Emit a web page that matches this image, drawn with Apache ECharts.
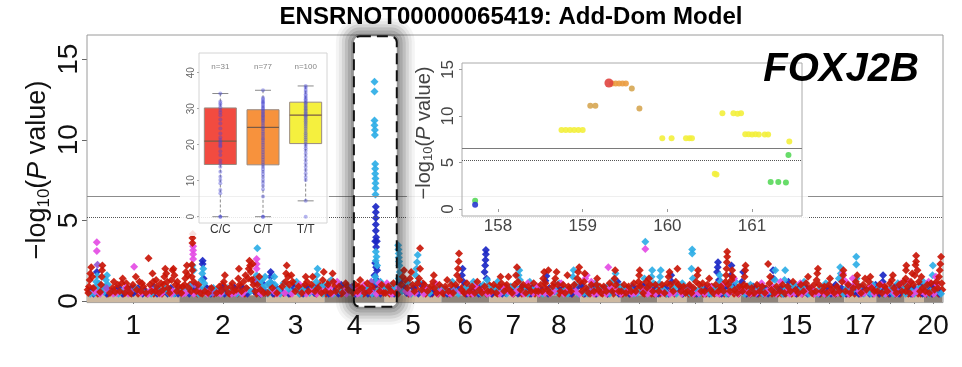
<!DOCTYPE html>
<html><head><meta charset="utf-8">
<script src="https://cdn.jsdelivr.net/npm/echarts@6/dist/echarts.min.js"></script>
<style>html,body{margin:0;padding:0;background:#fff}#c{width:962px;height:367px}</style>
</head><body><div id="c"></div>
<script>
// ---------- main Manhattan plot data ----------
const chrNames = ['1','2','3','4','5','6','7','8','9','10','11','12','13','14','15','16','17','18','19','20'];
const chrLengths = [282,266,177,184,173,147,145,133,122,112,90,52,114,115,111,90,97,87,59,56]; // Mb
const chrLabelShown = ['1','2','3','4','5','6','7','8','10','13','15','17','20'];
const yTicksMain = [0,5,10,15];
const sigLine = 6.5, suggestiveLine = 5.2;
const locusBox = [815, 946]; // Mb, boxed peak on chr 4

// points: [cumulative position (Mb), -log10(P)]
const redPts = [[4,0.5],[6,0.9],[8,1.3],[10,1.7],[13,2.1],[16,1.5],[19,0.8],[40,0.55],[43,1.0],[45,1.5],[46,1.9],[47,2.2],[70,0.5],[78,0.8],[86,0.55],[94,1.0],[100,0.6],[106,1.1],[109,1.4],[116,0.5],[124,0.8],[132,0.5],[140,1.0],[149,1.5],[152,0.7],[160,1.2],[164,0.6],[172,0.9],[180,0.5],[188,2.65],[192,1.0],[197,0.6],[200,1.7],[202,1.2],[208,0.6],[214,0.9],[220,0.5],[226,1.1],[232,0.7],[236,1.5],[239,2.0],[242,1.7],[245,1.2],[248,0.8],[252,0.5],[258,1.3],[261,1.9],[264,2.0],[267,1.6],[270,1.0],[274,0.6],[280,0.9],
[288,0.5],[292,0.9],[298,1.0],[300,1.4],[302,1.8],[305,2.2],[308,1.6],[311,0.8],[318,0.6],[320,1.5],[322,1.9],[320,2.25],[322,3.6],[322,3.9],[323,4.15],[326,1.2],[334,0.6],[340,1.0],[346,0.5],[360,0.6],[370,0.5],[380,0.8],[396,0.5],[404,0.9],[410,0.6],[418,1.2],[421,1.6],[424,0.8],[432,0.5],[440,0.9],[448,0.6],[456,0.7],[462,1.4],[464,2.0],[466,1.0],[472,0.6],[478,1.2],[484,1.6],[486,0.8],[492,1.4],[494,2.0],[496,2.5],[498,2.2],[500,1.8],[503,1.3],[506,2.3],[508,1.0],[514,0.6],[520,1.0],[526,1.5],[530,0.7],[540,0.5],
[552,0.5],[566,0.8],[580,0.5],[596,0.9],[606,1.2],[608,1.7],[610,2.2],[614,1.5],[618,1.0],[624,1.6],[628,1.2],[636,0.6],[646,0.9],[656,0.5],[666,1.0],[668,1.5],[676,0.6],[686,1.0],[689,1.5],[696,0.6],[706,0.8],[716,0.5],[720,1.3],[723,1.8],
[728,0.6],[736,1.0],[744,0.5],[750,1.7],[752,1.2],[760,0.6],[770,0.9],[780,0.5],[790,1.1],[798,0.7],[812,0.5],[820,1.0],[826,0.6],[834,1.3],[840,0.8],[848,0.5],[856,1.1],[862,0.6],[870,0.9],[894,0.6],[900,1.0],[906,0.5],
[912,0.5],[920,0.9],[928,0.6],[936,1.1],[944,0.5],[960,1.0],[964,1.5],[968,1.9],[972,1.3],[978,0.8],[986,1.4],[990,1.8],[994,1.0],[1000,0.6],[1010,1.1],[1017,3.27],[1017,2.0],[1014,1.4],[1022,0.7],[1030,1.0],[1040,0.6],[1050,0.9],[1057,1.2],[1059,1.6],[1061,0.8],[1068,0.5],[1076,1.0],
[1086,0.5],[1094,0.9],[1100,1.3],[1104,0.6],[1112,1.0],[1118,0.5],[1126,1.0],[1130,1.6],[1133,2.0],[1135,2.45],[1136,2.95],[1138,1.3],[1144,0.7],[1152,0.5],[1160,1.1],[1168,0.6],[1176,0.9],[1184,0.5],[1192,1.2],[1198,0.7],[1206,0.5],[1214,0.9],[1224,0.6],
[1234,0.6],[1242,1.0],[1250,0.5],[1258,0.9],[1263,1.5],[1266,1.1],[1274,0.6],[1282,1.0],[1287,1.5],[1290,0.7],[1298,0.5],[1306,1.0],[1310,1.6],[1313,2.1],[1316,1.2],[1324,0.7],[1332,1.0],[1340,0.5],[1348,0.9],[1356,0.6],[1364,1.1],[1370,0.6],
[1378,0.6],[1386,1.0],[1390,0.6],[1393,1.4],[1396,1.8],[1400,1.1],[1406,0.7],[1409,1.9],[1414,0.5],[1422,0.9],[1430,1.4],[1434,1.8],[1438,1.0],[1446,0.6],[1454,1.0],[1460,0.5],[1467,1.6],[1470,0.9],[1478,0.6],[1488,1.0],[1497,1.4],[1500,1.8],[1503,2.1],[1506,1.2],
[1512,0.6],[1518,1.2],[1520,1.7],[1524,0.8],[1532,0.5],[1540,1.0],[1548,0.6],[1556,1.0],[1558,1.4],[1562,0.7],[1570,0.5],[1578,0.9],[1586,0.6],[1596,1.1],[1604,0.6],[1611,1.4],[1613,1.9],[1616,1.0],[1624,0.6],
[1632,0.6],[1640,1.0],[1646,0.5],[1654,0.9],[1662,0.6],[1670,1.1],[1676,0.6],[1684,1.2],[1686,1.6],[1688,1.9],[1690,0.9],[1698,0.5],[1708,1.2],[1710,0.8],[1716,1.4],[1720,1.0],[1728,0.6],[1736,1.0],
[1746,0.6],[1756,1.0],[1764,0.5],[1772,1.1],[1776,1.5],[1779,1.8],[1782,1.0],[1790,0.6],[1798,1.2],[1803,2.0],[1806,1.0],[1814,0.6],[1822,0.9],[1828,0.5],
[1834,0.6],[1840,1.0],[1846,0.5],[1852,0.8],[1860,1.2],[1864,1.6],[1866,1.9],[1870,1.0],[1876,0.6],[1880,1.1],
[1886,0.6],[1894,1.0],[1900,1.4],[1904,0.7],[1912,0.5],[1920,1.0],[1928,0.6],[1936,0.9],[1944,0.6],[1950,1.2],[1952,1.6],[1953,2.0],[1954,2.4],[1955,2.75],[1955,3.05],[1958,1.0],[1964,0.6],[1968,1.3],[1970,1.9],[1972,1.5],[1978,0.7],[1986,0.5],[1992,0.9],
[2002,0.6],[2006,1.0],[2008,1.5],[2010,1.9],[2011,2.2],[2014,0.9],[2022,0.5],[2030,0.8],[2038,0.5],[2046,1.0],[2054,0.6],[2062,0.9],[2070,0.5],[2080,2.3],[2084,1.1],[2086,1.5],[2090,0.7],[2100,0.5],[2106,0.9],
[2116,0.6],[2124,1.0],[2130,0.5],[2140,0.9],[2148,0.6],[2156,1.2],[2164,0.7],[2172,0.5],[2180,1.0],[2188,0.6],[2196,1.1],[2202,1.5],[2206,0.8],[2214,0.5],[2220,1.0],
[2226,0.6],[2228,1.3],[2230,1.7],[2232,2.0],[2236,1.0],[2244,0.6],[2252,0.9],[2260,0.5],[2266,1.0],[2269,1.4],[2274,0.7],[2282,0.5],[2290,0.9],[2298,0.6],[2306,1.2],[2309,1.6],[2310,1.9],
[2316,0.6],[2324,1.0],[2332,0.5],[2340,0.8],[2348,1.2],[2352,1.6],[2356,0.9],[2364,0.5],[2370,1.0],[2376,1.4],[2380,0.7],[2388,1.2],[2392,1.5],[2396,0.8],[2404,0.6],
[2414,0.6],[2420,1.0],[2428,0.5],[2436,0.9],[2444,0.6],[2452,1.1],[2458,1.3],[2461,1.6],[2464,0.8],[2472,0.5],[2480,1.0],[2488,0.6],[2494,1.2],
[2500,0.6],[2500,1.4],[2501,1.9],[2502,2.2],[2506,0.9],[2512,0.5],[2516,1.2],[2520,1.7],[2524,1.0],[2528,1.6],[2530,2.23],[2532,2.45],[2532,2.8],[2536,1.9],[2540,1.2],[2544,0.6],[2548,1.5],[2552,0.8],
[2560,0.6],[2566,1.0],[2572,0.5],[2578,1.1],[2588,0.7],[2594,1.2],[2598,0.8],[2602,1.5],[2604,1.9],[2606,2.3],[2608,2.75],[2610,1.1]];
// dense low-level cloud (red)
const redFloor = [[2,0.7],[24,0.75],[33,0.45],[55,0.8],[64,0.45],[82,1.2],[90,0.8],[112,0.45],[120,1.1],[128,0.75],[136,0.45],[144,0.8],[156,0.45],[168,1.1],[176,0.7],[184,0.45],[204,0.45],[211,1.3],[217,0.75],[229,0.45],[234,1.0],[255,0.7],[276,1.2],[284,0.75],[295,0.6],[314,1.0],[330,0.8],[337,0.45],[352,0.45],[364,0.8],[375,0.75],[388,0.45],[400,0.6],[414,1.0],[428,0.7],[436,0.45],[444,1.1],[452,0.8],[460,0.45],[470,0.9],[482,0.45],[490,0.75],[511,1.4],[518,0.45],[536,0.8],[546,0.5],[558,1.0],[572,0.45],[588,0.75],[600,0.5],[620,0.45],[632,1.1],[640,0.75],[650,0.45],[660,0.9],[672,1.2],[680,0.8],[700,0.45],[710,1.0],[730,0.45],[740,1.2],[756,0.9],[766,0.5],[776,0.45],[784,0.8],[794,0.95],[806,0.7],[830,0.9],[844,0.45],[852,0.8],[866,0.45],[874,0.7],[890,0.9],[916,0.75],[924,0.45],[932,0.75],[950,0.45],[956,0.8],[976,1.1],[982,0.45],[1004,0.8],[1026,1.1],[1034,0.45],[1044,0.8],[1054,0.45],[1064,0.7],[1072,0.45],[1080,0.8],[1090,0.45],[1096,0.7],[1108,0.45],[1122,0.8],[1148,0.9],[1156,0.45],[1164,0.8],[1172,0.45],[1180,0.7],[1188,0.8],[1202,0.45],[1210,0.6],[1220,0.45],[1228,1.0],[1238,0.45],[1246,0.8],[1254,0.45],[1270,0.8],[1278,0.9],[1294,0.75],[1302,0.45],[1320,0.5],[1328,0.45],[1336,0.8],[1344,0.7],[1352,0.45],[1360,0.8],[1368,0.45],[1382,0.45],[1398,0.8],[1418,0.6],[1426,1.1],[1442,0.45],[1450,0.8],[1458,0.7],[1474,0.8],[1482,0.45],[1492,0.6],[1508,0.9],[1516,0.45],[1528,0.6],[1536,0.45],[1544,0.8],[1552,0.45],[1566,0.9],[1574,0.45],[1582,0.75],[1590,0.45],[1600,0.9],[1608,0.45],[1620,0.8],[1628,0.45],[1636,0.45],[1650,0.8],[1658,0.45],[1666,0.5],[1680,0.8],[1694,1.0],[1702,0.45],[1714,0.8],[1724,0.45],[1732,0.45],[1740,0.8],[1750,0.45],[1760,0.8],[1768,0.45],[1786,0.75],[1794,0.45],[1810,0.9],[1818,0.45],[1826,0.8],[1838,0.45],[1850,0.7],[1856,0.45],[1872,0.5],[1882,0.45],[1890,0.45],[1898,0.8],[1908,0.9],[1916,0.45],[1924,0.7],[1932,0.45],[1940,0.8],[1946,0.45],[1962,0.8],[1976,0.45],[1982,0.9],[1990,0.45],[1998,0.8],[2018,0.9],[2026,0.45],[2034,0.5],[2042,0.8],[2050,0.45],[2058,0.5],[2066,0.45],[2074,0.8],[2092,0.45],[2096,0.8],[2110,0.45],[2120,0.45],[2134,0.45],[2144,0.8],[2152,0.45],[2160,0.8],[2168,0.45],[2176,0.8],[2184,0.45],[2192,0.8],[2210,0.75],[2218,0.45],[2240,0.45],[2248,0.8],[2256,0.45],[2264,0.6],[2278,0.8],[2286,0.45],[2294,0.75],[2302,0.45],[2320,0.45],[2328,0.45],[2336,0.8],[2344,0.45],[2360,0.45],[2368,0.5],[2384,0.8],[2400,0.45],[2408,0.7],[2418,0.45],[2424,0.8],[2432,0.45],[2440,0.8],[2448,0.45],[2456,0.75],[2468,0.45],[2476,0.8],[2484,0.45],[2492,0.8],[2508,0.45],[2514,0.8],[2520,0.45],[2538,0.45],[2546,0.45],[2556,0.8],[2564,0.45],[2574,0.8],[2582,0.45],[2590,0.9],[2600,0.45],[2612,0.7]];

const skyPts = [[22,0.5],[25,0.85],[28,1.2],[31,1.55],[34,0.7],[36,1.1],[52,0.55],[55,0.9],[58,1.3],[61,1.6],[64,1.0],[67,0.6],[84,0.5],[112,0.7],[128,0.55],[168,0.6],[184,0.5],[210,0.8],[224,0.6],[250,0.5],[276,0.7],
[322,2.2],[326,1.9],[316,0.9],[348,0.8],[350,1.3],[352,1.7],[355,2.0],[358,1.1],[362,0.6],[376,0.5],[386,0.8],[412,0.5],[436,0.6],[470,0.5],[488,0.7],[520,3.27],[518,1.6],[522,1.2],[530,1.0],[534,1.3],[538,0.8],[544,1.5],
[550,1.0],[556,0.6],[560,1.2],[572,1.5],[574,1.0],[586,0.7],[600,1.1],[620,0.6],[640,1.2],[642,0.8],[660,0.7],[680,0.5],[700,1.2],[704,2.0],[702,1.6],[712,0.8],
[724,1.0],[746,1.3],[772,0.6],[794,0.5],[824,0.6],[860,0.8],[888,0.6],[896,1.2],
[878,13.6],[878,13.0],[878,11.2],[878,10.9],[879,10.6],[879,10.3],[880,8.5],[880,8.2],[880,7.9],[881,7.6],[881,7.3],[881,7.0],[881,6.6],[882,3.05],[884,2.75],[882,2.5],[886,2.2],[880,1.5],[884,1.2],
[950,3.45],[951,3.2],[952,2.95],[952,2.7],[953,2.45],[954,2.2],[955,1.8],[952,1.4],
[918,0.6],[930,1.0],[940,0.7],[962,0.6],[980,1.1],[1004,1.6],[1006,2.0],[1008,2.4],[1010,2.85],[1012,1.2],[1026,0.6],[1046,0.5],[1066,0.8],
[1098,0.6],[1116,1.2],[1122,0.7],[1156,0.8],[1180,1.2],[1196,0.6],[1210,1.0],[1222,1.3],[1226,0.8],
[1238,0.8],[1254,1.2],[1270,0.6],[1294,0.9],[1318,1.6],[1320,1.9],[1322,1.3],[1336,0.6],[1352,1.2],[1368,0.8],
[1384,0.5],[1418,0.7],[1442,1.1],[1458,0.7],[1484,1.5],[1486,1.9],[1490,1.0],
[1516,0.5],[1536,0.8],[1552,1.1],[1574,0.6],[1590,0.9],[1608,1.3],[1614,1.7],[1626,0.9],
[1636,0.8],[1660,0.7],[1680,0.5],[1705,3.67],[1702,1.4],[1724,1.5],[1726,1.9],[1730,1.1],[1740,0.6],
[1748,1.1],[1750,1.5],[1752,1.9],[1760,0.7],[1794,0.8],[1818,1.1],[1826,0.7],
[1848,3.2],[1848,2.95],[1846,2.0],[1850,1.4],[1856,0.7],[1874,0.8],
[1898,0.5],[1916,0.8],[1932,1.6],[1934,1.2],[1940,0.6],[1962,1.1],[1980,1.2],[1984,0.8],
[2016,0.7],[2026,1.0],[2042,0.6],[2058,0.8],[2074,0.6],[2099,0.8],[2101,1.3],[2102,1.9],
[2130,1.3],[2132,1.9],[2134,0.8],[2146,0.6],[2162,1.0],[2176,0.7],[2190,1.2],[2210,0.7],
[2240,0.8],[2256,1.1],[2278,0.6],[2296,1.4],[2300,2.1],[2302,1.7],
[2349,2.75],[2349,2.27],[2350,1.4],[2320,0.8],[2336,0.6],[2360,0.9],[2384,0.6],[2400,1.0],
[2418,0.8],[2440,0.6],[2456,0.8],[2476,1.1],[2492,0.7],
[2504,1.0],[2518,0.6],[2538,0.7],[2554,1.2],
[2562,0.9],[2576,0.6],[2582,1.6],[2583,2.2],[2590,0.6]];
const skyFloor = [[10,0.45],[46,0.7],[96,0.45],[150,0.75],[196,0.45],[240,0.75],[266,0.45],[300,0.7],[340,0.45],[394,0.7],[430,0.8],[458,0.45],[500,0.6],[552,0.45],[590,0.45],[612,0.8],[648,0.45],[690,0.8],[720,0.45],[752,0.45],[800,0.6],[838,0.45],[870,0.45],[906,0.8],[944,0.8],[990,0.45],[1040,0.8],[1084,0.8],[1134,0.45],[1168,0.9],[1204,0.45],[1250,0.7],[1282,0.45],[1310,0.8],[1346,0.45],[1392,0.45],[1432,0.6],[1468,0.45],[1500,0.45],[1530,0.45],[1560,0.8],[1596,0.45],[1632,0.9],[1670,0.45],[1690,0.6],[1716,0.9],[1770,0.45],[1800,0.45],[1840,0.5],[1870,0.45],[1906,0.45],[1952,0.45],[1970,0.8],[2008,0.45],[2030,0.6],[2064,0.45],[2086,0.6],[2124,0.45],[2150,0.9],[2186,0.8],[2204,0.45],[2232,0.45],[2262,0.45],[2290,0.6],[2310,0.45],[2340,0.9],[2372,0.45],[2394,0.45],[2434,0.45],[2462,0.45],[2500,0.45],[2526,0.45],[2542,0.8],[2570,0.45],[2596,0.8],[2608,0.45]];

const bluePts = [[14,0.6],[30,1.8],[76,0.6],[98,0.8],[120,0.6],[142,0.5],[156,0.8],[176,0.6],[204,0.9],[218,0.7],[230,0.6],[256,0.8],[270,0.5],
[330,0.7],[353,2.5],[353,2.3],[356,1.4],[366,0.8],[390,0.6],[414,0.8],[428,0.6],[444,0.5],[476,0.8],[510,0.6],[536,1.1],[542,0.6],
[561,1.8],[561,1.5],[563,1.1],[578,0.8],[592,0.6],[632,0.8],[652,0.6],[672,0.8],[694,0.5],[710,0.6],
[732,0.9],[756,0.6],[776,1.0],[804,0.8],[852,0.7],[874,0.5],[904,0.8],
[882,5.85],[882,5.5],[882,5.15],[882,4.75],[882,4.35],[883,3.95],[880,3.7],[885,3.7],[883,3.35],[880,2.35],[883,2.1],[886,1.9],[878,1.6],[884,1.3],[880,1.0],
[924,0.8],[946,0.6],[956,1.2],[976,0.5],[996,0.8],[1020,1.0],[1036,0.7],[1054,0.5],[1072,0.6],
[1090,0.7],[1108,0.6],[1145,1.6],[1147,2.0],[1150,1.2],[1170,0.8],[1188,0.6],[1202,0.9],[1214,1.8],[1216,2.2],[1217,2.55],[1218,2.9],[1218,3.16],[1220,1.4],
[1246,0.6],[1262,0.8],[1278,0.5],[1302,0.7],[1328,0.9],[1344,0.6],[1360,0.8],
[1382,0.8],[1400,1.25],[1403,1.55],[1412,0.8],[1428,0.6],[1450,0.8],[1474,0.5],[1494,0.8],
[1510,1.0],[1528,0.7],[1544,0.9],[1566,0.6],[1582,0.8],[1600,0.6],[1620,1.2],
[1644,0.7],[1666,0.9],[1694,0.6],[1714,0.6],[1732,0.8],
[1768,0.8],[1784,1.6],[1786,1.2],[1810,0.6],
[1838,0.8],[1858,0.6],[1878,0.7],
[1890,0.8],[1908,0.6],[1924,1.8],[1926,2.1],[1927,2.4],[1930,1.3],[1946,0.8],[1966,1.6],[1968,2.2],[1974,1.0],[1990,0.6],
[2000,1.2],[2004,1.8],[2018,0.6],[2034,0.9],[2050,0.6],[2066,0.8],[2095,1.9],[2096,1.4],[2110,0.7],
[2120,0.8],[2142,1.2],[2152,0.7],[2168,0.9],[2184,0.6],[2198,0.8],[2218,0.6],
[2248,0.6],[2264,0.8],[2286,1.0],[2304,0.8],
[2328,0.8],[2344,0.6],[2368,0.8],[2398,0.5],[2408,1.0],
[2424,0.7],[2430,1.2],[2431,1.6],[2448,0.6],[2468,0.9],[2484,0.7],
[2508,0.7],[2526,0.8],[2546,1.0],
[2568,0.8],[2586,1.0],[2600,0.6]];
const blueFloor = [[20,0.45],[60,0.45],[108,0.45],[136,0.8],[170,0.45],[214,0.45],[246,0.45],[278,0.45],[312,0.45],[344,0.75],[378,0.45],[420,0.45],[450,0.8],[490,0.45],[530,0.45],[568,0.45],[616,0.45],[660,0.45],[700,0.8],[738,0.45],[768,0.45],[820,0.45],[858,0.45],[896,0.45],[938,0.45],[970,0.8],[1012,0.45],[1048,0.45],[1100,0.45],[1130,0.8],[1160,0.45],[1196,0.45],[1236,0.45],[1268,0.45],[1316,0.45],[1356,0.45],[1408,0.45],[1444,0.8],[1480,0.45],[1520,0.45],[1556,0.45],[1590,0.45],[1624,0.45],[1656,0.45],[1700,0.9],[1744,0.45],[1776,0.45],[1820,0.45],[1862,0.45],[1900,0.45],[1938,0.45],[1958,0.45],[2014,0.45],[2046,0.45],[2080,0.45],[2128,0.45],[2166,0.45],[2200,0.45],[2236,0.45],[2272,0.45],[2318,0.45],[2356,0.45],[2390,0.45],[2420,0.45],[2452,0.45],[2480,0.45],[2516,0.45],[2552,0.45],[2580,0.45],[2604,0.45]];

const magentaPts = [[30,3.65],[30,3.1],[24,0.6],[62,0.7],[90,0.5],[118,0.8],[144,2.13],[166,0.5],[196,0.7],[228,0.5],[262,0.6],
[324,3.4],[324,3.15],[324,2.9],[324,2.6],[300,0.5],[342,0.6],[372,0.6],[398,0.5],[452,0.5],[480,0.6],[518,2.6],[518,2.3],[518,2.0],[524,0.6],
[570,0.6],[604,0.5],[650,1.0],[684,0.6],[718,0.6],
[740,0.8],[764,1.2],[786,0.6],[816,0.8],[830,0.5],[846,1.0],[866,0.6],[892,1.1],[898,0.6],
[916,1.1],[934,0.5],[952,0.8],[974,0.6],[1002,0.5],[1034,0.8],[1064,1.1],[1080,0.6],
[1106,0.5],[1140,0.6],[1164,0.5],[1186,0.9],[1208,0.6],
[1230,0.5],[1268,0.9],[1286,0.6],[1312,0.6],[1346,1.1],[1362,0.5],
[1376,0.9],[1398,0.5],[1426,0.6],[1448,1.1],[1464,0.6],[1492,0.6],
[1522,1.4],[1526,1.6],[1540,1.2],[1560,0.5],[1580,0.6],[1592,2.1],[1598,0.8],[1618,0.6],
[1650,0.6],[1674,0.5],[1705,3.22],[1700,0.7],[1722,0.6],
[1758,0.5],[1792,0.5],[1820,0.6],
[1844,0.7],[1868,0.5],
[1902,0.9],[1922,0.5],[1942,1.0],[1960,0.5],[1976,1.4],[1996,0.6],
[2012,0.6],[2044,0.5],[2060,1.1],[2078,0.6],[2092,0.9],
[2118,1.2],[2138,0.6],[2160,0.5],[2178,1.1],[2194,0.6],[2212,0.8],
[2234,0.5],[2270,0.6],[2292,0.5],[2308,1.7],[2312,1.3],
[2322,1.1],[2338,1.4],[2342,1.0],[2358,0.6],[2374,0.5],[2394,0.9],
[2426,1.0],[2446,0.6],[2466,0.5],[2486,1.1],
[2510,1.2],[2534,0.6],[2550,0.6],
[2570,1.2],[2592,1.5],[2596,1.0]];
const magentaFloor = [[40,0.45],[80,0.45],[126,0.45],[186,0.45],[222,0.45],[258,0.45],[292,0.45],[326,0.45],[368,0.45],[408,0.45],[442,0.45],[474,0.45],[532,0.45],[580,0.45],[626,0.45],[670,0.45],[702,0.45],[748,0.45],[792,0.45],[826,0.45],[884,0.45],[930,0.45],[986,0.45],[1028,0.45],[1070,0.45],[1112,0.45],[1178,0.45],[1222,0.45],[1260,0.45],[1300,0.45],[1334,0.45],[1380,0.45],[1414,0.45],[1456,0.45],[1504,0.45],[1548,0.45],[1586,0.45],[1630,0.45],[1664,0.45],[1712,0.45],[1736,0.45],[1780,0.45],[1816,0.45],[1852,0.45],[1886,0.45],[1930,0.45],[1988,0.45],[2024,0.45],[2070,0.45],[2104,0.45],[2146,0.45],[2182,0.45],[2222,0.45],[2252,0.45],[2282,0.45],[2326,0.45],[2364,0.45],[2404,0.45],[2438,0.45],[2472,0.45],[2522,0.45],[2560,0.45],[2586,0.45]];

const purplePts = [[32,2.25],[60,0.8],[134,0.6],[212,0.6],[330,1.0],[384,0.5],[512,1.2],[810,0.9],[842,0.7],[868,1.2],[1120,0.6],[1540,0.7],[1840,0.9],[2150,0.6],[2330,0.9],[2470,0.7]];

// ---------- inset 1: expression by genotype ----------
const genotypes = ['C/C','C/T','T/T'];
const genoN = [31,77,100];
const boxStats = [[0,14.5,21.0,30.2,34.2],[0,14.4,24.8,29.7,35.1],[4.4,20.3,28.2,31.8,36.3]]; // lo, q1, median, q3, hi
const ccExpr = [34.2,32.0,31.5,31.0,30.4,29.6,28.9,28.2,27.0,25.9,24.5,23.1,22.0,21.3,20.8,20.3,19.8,19.4,18.2,17.1,15.6,14.8,13.9,12.5,11.1,10.2,9.3,7.4,6.5,0,0];
const ctExpr = [35.1,33.0,32.6,32.1,31.8,31.5,31.0,30.6,30.2,29.8,29.4,29.0,28.6,28.2,27.8,27.4,27.0,26.6,26.0,25.4,24.8,24.3,23.6,23.0,22.4,21.8,21.3,20.6,20.0,19.3,18.6,17.9,17.2,16.5,15.8,15.1,14.4,13.8,13.2,12.5,11.8,11.0,10.2,9.4,8.6,7.6,5.6,0,0];
const ttExpr = [36.3,35.8,35.2,34.6,34.0,33.5,33.0,32.6,32.2,31.8,31.4,31.0,30.6,30.2,29.8,29.4,29.0,28.6,28.2,27.8,27.4,27.0,26.5,26.0,25.5,25.0,24.4,23.8,23.2,22.6,22.0,21.4,20.8,20.2,19.6,19.0,18.3,17.5,16.6,15.7,14.8,13.9,13.0,12.0,11.0,10.2,4.4,0];
const exprTicks = [0,10,20,30,40];
const boxColors = ['#f24b40','#f7923d','#f5f03e'];

// ---------- inset 2: regional plot chr 4 (Mb) ----------
const regTicksX = [158,159,160,161];
const regTicksY = [0,5,10,15];
const regYellow = [[158.75,8.5],[158.8,8.5],[158.85,8.5],[158.9,8.5],[158.95,8.5],[159.0,8.5],[159.94,7.6],[160.05,7.6],[160.22,7.6],[160.26,7.6],[160.29,7.6],[160.56,3.8],[160.58,3.7],[160.65,10.3],[160.78,10.3],[160.83,10.25],[160.87,10.3],[160.92,8.05],[160.96,8.05],[161.0,8.0],[161.04,8.05],[161.08,8.0],[161.15,8.0],[161.19,8.0],[161.44,7.25]];
const regTan = [[159.09,11.1],[159.15,11.1],[159.58,12.95],[159.67,10.8]];
const regOrange = [[159.35,13.5],[159.39,13.5],[159.43,13.5],[159.47,13.5],[159.51,13.5]];
const regRed = [[159.31,13.55]];
const regGreen = [[157.73,0.9],[161.43,5.8],[161.22,2.9],[161.31,2.9],[161.4,2.85]];
const regBlue = [[157.73,0.45]];

// ---------- derived ----------
const chrStarts = []; let acc = 0;
chrLengths.forEach(l => { chrStarts.push(acc); acc += l; });
const chrCenters = chrStarts.map((s, i) => s + chrLengths[i] / 2);
const shownCenters = chrLabelShown.map(n => chrCenters[chrNames.indexOf(n)]);
const bandData = chrStarts.map((s, i) => [s, s + chrLengths[i], i % 2]);

const FF = 'Liberation Sans, Arial, Helvetica, sans-serif';
const chart = echarts.init(document.getElementById('c'), null, {renderer: 'canvas'});

function ptSeries(data, color, z) {
  return {type: 'scatter', xAxisIndex: 0, yAxisIndex: 0, data, symbol: 'diamond', symbolSize: 8,
    itemStyle: {color, opacity: 0.92}, z, silent: true, animation: false};
}
function regSeries(data, color, size) {
  return {type: 'scatter', xAxisIndex: 2, yAxisIndex: 2, data, symbol: 'circle', symbolSize: size,
    itemStyle: {color, opacity: 0.9}, z: 9, silent: true, animation: false};
}

const option = {
  animation: false,
  textStyle: {fontFamily: FF},
  grid: [
    {left: 87, top: 35, width: 856, height: 267.6, show: true, borderColor: '#9a9a9a', borderWidth: 1, z: 1},
    {left: 199, top: 53, width: 128, height: 170, show: true, borderColor: '#d4d4d4', borderWidth: 1, z: 6},
    {left: 462, top: 63, width: 340, height: 153, show: true, borderColor: '#aaaaaa', borderWidth: 1, z: 6}
  ],
  xAxis: [
    {gridIndex: 0, type: 'value', min: 0, max: 2614, splitLine: {show: false}, axisLine: {show: false},
     axisTick: {show: true, customValues: chrCenters, length: 3, lineStyle: {color: '#777'}},
     axisLabel: {customValues: shownCenters, fontSize: 28, color: '#111', margin: 10, fontFamily: FF,
       formatter: v => { const i = chrCenters.findIndex(c => Math.abs(c - v) < 0.01); return i >= 0 ? chrNames[i] : ''; }}},
    {gridIndex: 1, type: 'category', data: genotypes, z: 6, axisLine: {show: false}, axisTick: {show: false},
     axisLabel: {fontSize: 12, color: '#333', margin: 1, fontFamily: FF}},
    {gridIndex: 2, type: 'value', min: 157.575, max: 161.59, z: 6, splitLine: {show: false}, axisLine: {show: false},
     axisTick: {show: true, customValues: regTicksX, length: 3, lineStyle: {color: '#999'}},
     axisLabel: {customValues: regTicksX, fontSize: 17, color: '#444', margin: 2, fontFamily: FF}}
  ],
  yAxis: [
    {gridIndex: 0, type: 'value', min: -0.1, max: 16.5, splitLine: {show: false}, axisLine: {show: false},
     axisTick: {show: true, customValues: yTicksMain, length: 5, lineStyle: {color: '#666'}},
     axisLabel: {customValues: yTicksMain, rotate: 90, fontSize: 28, color: '#111', margin: 4, fontFamily: FF}},
    {gridIndex: 1, type: 'value', min: -1.75, max: 45.45, z: 6, splitLine: {show: false}, axisLine: {show: false},
     axisTick: {show: true, customValues: exprTicks, length: 2, lineStyle: {color: '#aaa'}},
     axisLabel: {customValues: exprTicks, rotate: 90, fontSize: 10, color: '#666', margin: 3, fontFamily: FF}},
    {gridIndex: 2, type: 'value', min: -0.75, max: 15.7, z: 6, splitLine: {show: false}, axisLine: {show: false},
     axisTick: {show: true, customValues: regTicksY, length: 3, lineStyle: {color: '#999'}},
     axisLabel: {customValues: regTicksY, rotate: 90, fontSize: 17, color: '#444', margin: 5, fontFamily: FF}}
  ],
  series: [
    {type: 'custom', xAxisIndex: 0, yAxisIndex: 0, data: bandData, z: 2, silent: true, clip: true,
     renderItem: (params, api) => {
       const p1 = api.coord([api.value(0), 0.36]);
       const p2 = api.coord([api.value(1), -0.1]);
       return {type: 'rect', shape: {x: p1[0], y: p1[1], width: p2[0] - p1[0], height: p2[1] - p1[1]},
         style: {fill: api.value(2) ? '#8f847a' : '#cdb9a1'}};
     }},
    Object.assign(ptSeries(redFloor, '#c91608', 3), {
      markLine: {silent: true, symbol: 'none', label: {show: false}, animation: false,
        data: [{yAxis: sigLine, lineStyle: {type: 'solid', color: '#8c8c8c', width: 1}},
               {yAxis: suggestiveLine, lineStyle: {type: 'dotted', color: '#555', width: 1}}]}}),
    ptSeries(bluePts.concat(blueFloor), '#1b27c4', 3),
    ptSeries(skyPts.concat(skyFloor), '#2eaee6', 3),
    ptSeries(magentaPts.concat(magentaFloor), '#e44ce4', 3),
    ptSeries(purplePts, '#9456d6', 3),
    ptSeries(redPts, '#c91608', 3),
    // inset 1: box plot
    {type: 'custom', xAxisIndex: 1, yAxisIndex: 1, z: 8, silent: true,
     data: boxStats.map((b, i) => [i].concat(b)),
     encode: {x: 0, y: [1, 2, 3, 4, 5]},
     renderItem: (params, api) => {
       const i = api.value(0);
       const v = [1, 2, 3, 4, 5].map(k => api.coord([i, api.value(k)]));
       const w = api.size([1, 0])[0] * 0.75;
       const cx = v[2][0];
       const dash = {stroke: '#8a8a8a', lineWidth: 1, lineDash: [3, 2]};
       const solid = {stroke: '#8a8a8a', lineWidth: 1};
       return {type: 'group', children: [
         {type: 'line', shape: {x1: cx, y1: v[4][1], x2: cx, y2: v[3][1]}, style: dash},
         {type: 'line', shape: {x1: cx, y1: v[1][1], x2: cx, y2: v[0][1]}, style: dash},
         {type: 'line', shape: {x1: cx - w / 4, y1: v[4][1], x2: cx + w / 4, y2: v[4][1]}, style: solid},
         {type: 'line', shape: {x1: cx - w / 4, y1: v[0][1], x2: cx + w / 4, y2: v[0][1]}, style: solid},
         {type: 'rect', shape: {x: cx - w / 2, y: v[3][1], width: w, height: v[1][1] - v[3][1]},
          style: {fill: boxColors[i], stroke: '#9a8a80', lineWidth: 1}},
         {type: 'line', shape: {x1: cx - w / 2, y1: v[2][1], x2: cx + w / 2, y2: v[2][1]}, style: {stroke: '#7a5b45', lineWidth: 1.2}}
       ]};
     }},
    {type: 'scatter', xAxisIndex: 1, yAxisIndex: 1, z: 9, silent: true, symbolSize: 4,
     itemStyle: {color: 'rgba(70,70,215,0.5)'},
     data: [].concat(ccExpr.map(v => [genotypes[0], v]), ctExpr.map(v => [genotypes[1], v]), ttExpr.map(v => [genotypes[2], v]))},
    {type: 'scatter', xAxisIndex: 1, yAxisIndex: 1, z: 9, silent: true, symbolSize: 0,
     data: genotypes.map(g => [g, 41.5]),
     label: {show: true, position: 'inside', formatter: p => 'n=' + genoN[p.dataIndex], fontSize: 8, color: '#666', fontFamily: FF}},
    // inset 2: regional plot
    Object.assign(regSeries(regYellow, '#f3ef3c', 6), {
      markLine: {silent: true, symbol: 'none', label: {show: false}, animation: false, z: 9,
        data: [{yAxis: sigLine, lineStyle: {type: 'solid', color: '#7a7a7a', width: 1, opacity: 1}},
               {yAxis: suggestiveLine, lineStyle: {type: 'dotted', color: '#555', width: 1, opacity: 1}}]}}),
    regSeries(regTan, '#d6a652', 6),
    regSeries(regOrange, '#eb9d42', 6),
    regSeries(regGreen, '#58d85a', 6),
    regSeries(regBlue, '#2a3ad0', 6),
    regSeries(regRed, '#e0443f', 9)
  ]
};
chart.setOption(option);

// annotations
const tl = chart.convertToPixel({gridIndex: 0}, [locusBox[0], 16.42]);
const br = chart.convertToPixel({gridIndex: 0}, [locusBox[1], -0.35]);
const bx = tl[0], by = tl[1], bw = br[0] - tl[0], bh = br[1] - tl[1];
const glowRings = [[1.5, 0.5], [4.5, 0.4], [7.5, 0.3], [10.5, 0.2], [13.5, 0.11], [16.5, 0.05]];
const graphics = [
  {type: 'rect', z: 5, silent: true, shape: {x: 180, y: 44, width: 149, height: 192}, style: {fill: 'rgba(255,255,255,0.86)'}},
  {type: 'rect', z: 5, silent: true, shape: {x: 407, y: 54, width: 401, height: 181}, style: {fill: 'rgba(255,255,255,0.86)'}},
  {type: 'text', z: 20, x: 511, y: 17, silent: true,
   style: {text: 'ENSRNOT00000065419: Add-Dom Model', font: 'bold 24px ' + FF, fill: '#000', textAlign: 'center', textVerticalAlign: 'middle', align: 'center', verticalAlign: 'middle'}},
  {type: 'text', z: 20, x: 841, y: 70, silent: true,
   style: {text: 'FOXJ2B', font: 'italic bold 40px ' + FF, fill: '#000', textAlign: 'center', textVerticalAlign: 'middle', align: 'center', verticalAlign: 'middle'}},
  {type: 'text', z: 20, x: 38, y: 170, rotation: Math.PI / 2, silent: true,
   style: {text: '{a|−log}{s|10}{a|(}{i|P}{a| value)}', textAlign: 'center', textVerticalAlign: 'middle', align: 'center', verticalAlign: 'middle', fill: '#111',
     rich: {a: {fontSize: 27, lineHeight: 30, fontFamily: FF, color: '#111'},
            i: {fontSize: 27, lineHeight: 30, fontFamily: FF, fontStyle: 'italic', color: '#111'},
            s: {fontSize: 17, lineHeight: 17, fontFamily: FF, verticalAlign: 'bottom', color: '#111'}}}},
  {type: 'text', z: 20, x: 424, y: 133, rotation: Math.PI / 2, silent: true,
   style: {text: '{a|−log}{s|10}{a|(}{i|P}{a| value)}', textAlign: 'center', textVerticalAlign: 'middle', align: 'center', verticalAlign: 'middle', fill: '#444',
     rich: {a: {fontSize: 20, lineHeight: 22, fontFamily: FF, color: '#444'},
            i: {fontSize: 20, lineHeight: 22, fontFamily: FF, fontStyle: 'italic', color: '#444'},
            s: {fontSize: 13, lineHeight: 13, fontFamily: FF, verticalAlign: 'bottom', color: '#444'}}}}
];
glowRings.forEach(([o, a]) => graphics.push({type: 'rect', z: 12, silent: true,
  shape: {x: bx - o, y: by - o, width: bw + 2 * o, height: bh + 2 * o, r: 6 + o},
  style: {fill: 'none', stroke: 'rgba(40,40,40,' + a + ')', lineWidth: 3}}));
graphics.push({type: 'rect', z: 15, silent: true, shape: {x: bx, y: by, width: bw, height: bh, r: 6},
  style: {fill: 'none', stroke: '#111', lineWidth: 2, lineDash: [11, 6]}});
chart.setOption({graphic: graphics});
</script></body></html>
